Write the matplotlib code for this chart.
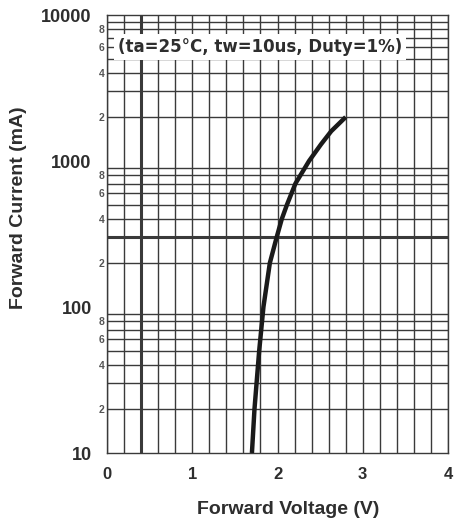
import numpy as np
import matplotlib.pyplot as plt
from matplotlib.ticker import FixedLocator, FixedFormatter

plt.rcParams['font.family'] = ['Liberation Sans', 'DejaVu Sans']

# forward voltage (V) vs forward current (mA)
voltage = [1.70, 1.73, 1.785, 1.835, 1.91, 1.99, 2.05, 2.11, 2.21, 2.27, 2.37, 2.51, 2.63, 2.80]
current = [10, 20, 50, 100, 200, 300, 400, 500, 700, 800, 1000, 1300, 1600, 2000]

x_major = [0, 1, 2, 3, 4]
y_major = [10, 100, 1000, 10000]
y_major_labels = ['10', '100', '1000', '10000']
note = '(ta=25°C, tw=10us, Duty=1%)'

gridc = '#3a3a3a'
textc = '#2e2e2e'

fig = plt.figure(figsize=(4.55, 5.26), dpi=100)
ax = fig.add_axes([107/455, 73/526, 341/455, 438/526])
ax.set_yscale('log')
ax.set_xlim(0, 4)
ax.set_ylim(10, 10000)

# grid: every 0.2 V, every 1..9 per decade
xminor = np.arange(0, 4.01, 0.2)
yminor = [m * 10**d for d in range(1, 4) for m in range(2, 10)]
for xv in xminor:
    ax.axvline(xv, color=gridc, lw=1.0, zorder=1)
for yv in yminor:
    ax.axhline(yv, color=gridc, lw=1.0, zorder=1)
ax.axvline(0.4, color=gridc, lw=2.2, zorder=1)
ax.axhline(300, color=gridc, lw=2.2, zorder=1)

for s in ax.spines.values():
    s.set_color(gridc)
    s.set_linewidth(1.0)

ax.plot(voltage, current, color='#1a1a1a', lw=3.2, solid_capstyle='butt', zorder=3)

ax.xaxis.set_major_locator(FixedLocator(x_major))
ax.set_xticklabels([str(v) for v in x_major], fontsize=12, fontweight='bold', color=textc)
ax.xaxis.set_minor_locator(FixedLocator([]))

ax.yaxis.set_major_locator(FixedLocator(y_major))
ax.yaxis.set_major_formatter(FixedFormatter(y_major_labels))
lab_minor = [m * 10**d for d in range(1, 4) for m in (2, 4, 6, 8)]
ax.yaxis.set_minor_locator(FixedLocator(lab_minor))
ax.yaxis.set_minor_formatter(FixedFormatter([str(m) for d in range(1, 4) for m in (2, 4, 6, 8)]))
ax.tick_params(axis='y', which='major', length=0, pad=11, labelsize=13, labelcolor=textc)
ax.tick_params(axis='y', which='minor', length=0, pad=2, labelsize=7.5, labelcolor='#555555')
ax.tick_params(axis='x', which='both', length=0, pad=10)
for t in ax.get_yticklabels(which='both'):
    t.set_fontweight('bold')

ax.set_xlabel('Forward Voltage (V)', fontsize=14, fontweight='bold', color=textc)
ax.xaxis.set_label_coords(0.53, -0.11)
ax.set_ylabel('Forward Current (mA)', fontsize=14, fontweight='bold', color=textc)
ax.yaxis.set_label_coords(-0.235, 0.56)

ax.text(0.032, 0.927, note, transform=ax.transAxes, fontsize=12, fontweight='bold',
        family=['DejaVu Sans'], color=textc, va='center', ha='left', zorder=4,
        bbox=dict(facecolor='white', edgecolor='none', pad=3.0))

fig.savefig('out.png', dpi=100)
